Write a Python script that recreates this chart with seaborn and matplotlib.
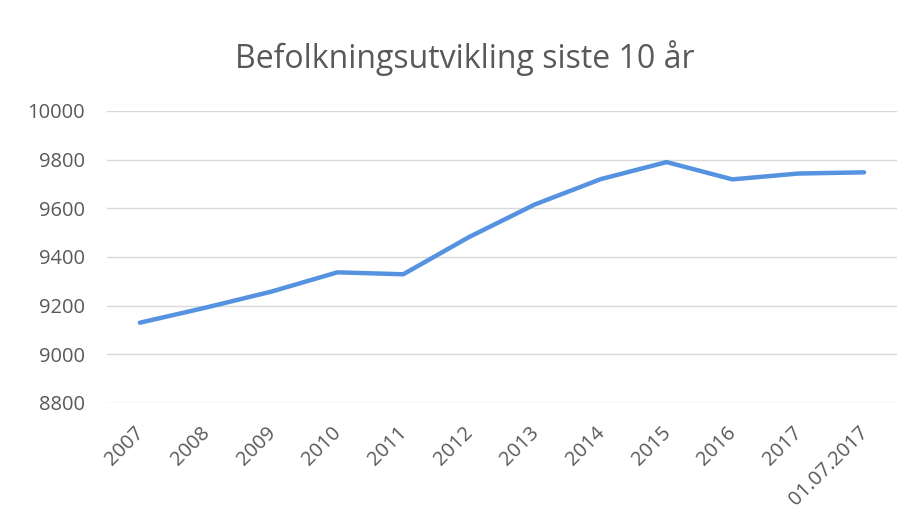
import matplotlib
matplotlib.use("Agg")
import matplotlib.pyplot as plt
import matplotlib.transforms as mtransforms
import seaborn as sns
import pandas as pd

categories = ["2007", "2008", "2009", "2010", "2011", "2012", "2013", "2014",
              "2015", "2016", "2017", "01.07.2017"]
population = [9130, 9192, 9258, 9337, 9329, 9482, 9616, 9720, 9790, 9719, 9743, 9748]
yticks = [8800, 9000, 9200, 9400, 9600, 9800, 10000]

sns.set_theme(style="white")
plt.rcParams['font.family'] = ['Open Sans', 'DejaVu Sans']

df = pd.DataFrame({"kategori": categories, "befolkning": population})
df["pos"] = range(len(categories))

fig = plt.figure(figsize=(9.17, 5.21), dpi=100)
ax = fig.add_axes([107/917, 1-403/521, (897-107)/917, (403-111)/521])

sns.lineplot(data=df, x="pos", y="befolkning", ax=ax, color="#5592E0",
             linewidth=3.2, solid_capstyle="round", solid_joinstyle="round")

ax.set_xlim(-0.5, len(categories) - 0.5)
ax.set_ylim(8800, 10000)
ax.set_yticks(yticks)
ax.set_yticklabels([str(v) for v in yticks])
ax.set_xticks(df["pos"])
ax.set_xticklabels(categories, rotation=45, ha="right", rotation_mode="anchor")
ax.tick_params(axis="y", length=0, labelsize=14.5, colors="#595959", pad=16)
ax.tick_params(axis="x", length=0, labelsize=14.5, colors="#595959", pad=14)
offset = mtransforms.ScaledTranslation(-6/100, 0, fig.dpi_scale_trans)
for lbl in ax.get_xticklabels():
    lbl.set_transform(lbl.get_transform() + offset)
ax.grid(axis="y", color="#D9D9D9", linewidth=1)
ax.set_axisbelow(True)
for s in ax.spines.values():
    s.set_visible(False)
ax.set_xlabel("")
ax.set_ylabel("")

fig.text(465/917, 1-58/521, "Befolkningsutvikling siste 10 år", ha="center", va="center",
         fontsize=23, color="#595959")

fig.savefig("out.png", dpi=100)
